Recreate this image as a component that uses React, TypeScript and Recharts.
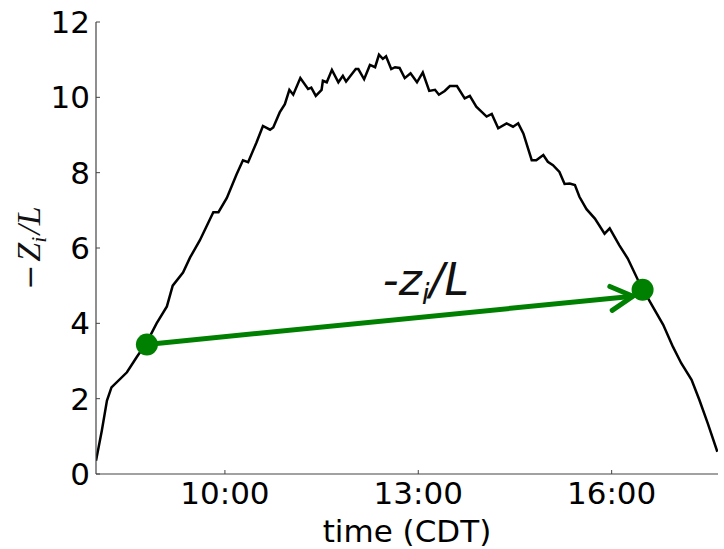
import React from 'react';
import { ComposedChart, Line, Scatter, XAxis, YAxis, ReferenceDot } from 'recharts';

// time of day in decimal hours (CDT)
const TIME_H = [
  8.0, 8.09, 8.17, 8.24, 8.48, 8.63, 8.79, 8.94, 9.1, 9.19, 9.35, 9.46, 9.61, 9.82, 9.9,
  10.03, 10.18, 10.28, 10.36, 10.49, 10.59, 10.7, 10.75, 10.85, 10.93, 11.0, 11.06, 11.17,
  11.29, 11.34, 11.41, 11.5, 11.52, 11.58, 11.66, 11.76, 11.83, 11.88, 12.03, 12.07, 12.16,
  12.25, 12.33, 12.39, 12.45, 12.5, 12.58, 12.64, 12.71, 12.79, 12.88, 12.98, 13.07, 13.17,
  13.26, 13.32, 13.41, 13.49, 13.6, 13.72, 13.8, 13.9, 14.06, 14.14, 14.24, 14.37, 14.47,
  14.55, 14.63, 14.76, 14.83, 14.94, 15.01, 15.09, 15.19, 15.27, 15.35, 15.43, 15.5, 15.61,
  15.74, 15.89, 15.97, 16.12, 16.25, 16.43, 16.64, 16.8, 16.95, 17.08, 17.24, 17.36, 17.49,
  17.64,
];

// -Zi/L
const ZI_OVER_L = [
  0.35, 1.15, 1.95, 2.3, 2.7, 3.1, 3.5, 4.0, 4.45, 5.0, 5.35, 5.75, 6.2, 6.95, 6.95,
  7.33, 7.95, 8.33, 8.28, 8.8, 9.24, 9.14, 9.2, 9.6, 9.82, 10.2, 10.07, 10.51,
  10.22, 10.26, 10.04, 10.2, 10.44, 10.4, 10.73, 10.4, 10.57, 10.42, 10.75, 10.75, 10.48,
  10.86, 10.8, 11.13, 11.02, 11.09, 10.75, 10.8, 10.78, 10.51, 10.64, 10.4, 10.66, 10.17,
  10.2, 10.07, 10.17, 10.3, 10.3, 9.97, 10.04, 9.75, 9.49, 9.56, 9.18, 9.31, 9.22,
  9.31, 9.04, 8.33, 8.33, 8.47, 8.29, 8.2, 8.02, 7.7, 7.71, 7.67, 7.36, 7.03,
  6.78, 6.38, 6.52, 6.07, 5.72, 5.07, 4.44, 3.96, 3.38, 2.94, 2.5, 1.97, 1.35,
  0.59,
];

// the two highlighted instants and the arrow between them
const MARK_T = [8.79, 16.48];
const MARK_V = [3.44, 4.89];
const ARROW_T = [8.79, 16.33];
const ARROW_V = [3.44, 4.72];

const X_TICKS = [10, 13, 16];
const Y_TICKS = [0, 2, 4, 6, 8, 10, 12];

const series = TIME_H.map((t, i) => ({ t, v: ZI_OVER_L[i] }));
const marks = MARK_T.map((t, i) => ({ t, v: MARK_V[i] }));
const arrow = ARROW_T.map((t, i) => ({ t, v: ARROW_V[i] }));

const GREEN = '#008000';
const FRAME = '#444';
const tickFont = { fill: '#000', fontSize: 31, fontFamily: 'DejaVu Sans' };

const fmtHour = (h: number) => `${h}:00`;

const ArrowLabel = (props: any) => {
  const { x, y } = props.viewBox;
  return (
    <text x={x} y={y} fontFamily="DejaVu Sans" fontStyle="italic" fontSize={44} fill="#111">
      -z<tspan dy={9} fontSize={28}>i</tspan>
      <tspan dy={-9}>/L</tspan>
    </text>
  );
};

const YLabel = (props: any) => {
  const vb = props.viewBox;
  const cx = vb.x + 4;
  const cy = vb.y + vb.height / 2;
  return (
    <text
      x={cx}
      y={cy}
      transform={`rotate(-90 ${cx} ${cy})`}
      textAnchor="middle"
      fontFamily="Liberation Serif"
      fontStyle="italic"
      fontSize={34}
      fill="#111"
    >
      <tspan fontStyle="normal" fontFamily="DejaVu Serif" fontSize={30}>−</tspan>
      <tspan dx={3}>Z</tspan>
      <tspan dy={6} fontSize={22}>i</tspan>
      <tspan dy={-6} dx={2}>/L</tspan>
    </text>
  );
};

export default function App() {
  return (
    <div style={{ position: 'absolute', left: 0, top: 0, background: '#fff' }}>
      <ComposedChart width={724} height={549} margin={{ top: 22, right: 6, bottom: 35, left: 36 }}>
        <defs>
          <marker
            id="arrowHead"
            markerWidth={40}
            markerHeight={40}
            viewBox="-30 -20 40 40"
            refX={0}
            refY={0}
            orient="auto"
            markerUnits="userSpaceOnUse"
          >
            <path d="M -22 -12 L 0 0 L -22 12" fill="none" stroke={GREEN} strokeWidth={5} strokeLinecap="round" />
          </marker>
        </defs>
        <XAxis
          dataKey="t"
          type="number"
          domain={[8, 17.65]}
          allowDataOverflow
          ticks={X_TICKS}
          tickFormatter={fmtHour}
          height={40}
          tickSize={-4}
          tickMargin={12}
          tick={tickFont}
          axisLine={{ stroke: FRAME, strokeWidth: 1.2 }}
          tickLine={{ stroke: FRAME }}
          label={{ value: 'time (CDT)', position: 'bottom', offset: 6, fill: '#000', fontSize: 31, fontFamily: 'DejaVu Sans' }}
        />
        <XAxis
          xAxisId="top"
          orientation="top"
          dataKey="t"
          type="number"
          domain={[8, 17.65]}
          allowDataOverflow
          ticks={X_TICKS}
          height={0}
          tickSize={-4}
          tick={false}
          axisLine={{ stroke: FRAME, strokeWidth: 1.2 }}
          tickLine={{ stroke: FRAME }}
        />
        <YAxis
          type="number"
          domain={[0, 12]}
          ticks={Y_TICKS}
          width={60}
          tickSize={-4}
          tickMargin={10}
          tick={tickFont}
          axisLine={{ stroke: FRAME, strokeWidth: 1.2 }}
          tickLine={{ stroke: FRAME }}
          label={{ content: YLabel }}
        />
        <YAxis
          yAxisId="right"
          orientation="right"
          type="number"
          domain={[0, 12]}
          ticks={Y_TICKS}
          width={0}
          tickSize={-4}
          tick={false}
          axisLine={{ stroke: FRAME, strokeWidth: 1.2 }}
          tickLine={{ stroke: FRAME }}
        />
        <Line
          data={series}
          dataKey="v"
          type="linear"
          stroke="#000"
          strokeWidth={2.5}
          dot={false}
          isAnimationActive={false}
        />
        <Line
          data={arrow}
          dataKey="v"
          type="linear"
          stroke={GREEN}
          strokeWidth={5}
          dot={false}
          markerEnd="url(#arrowHead)"
          isAnimationActive={false}
        />
        <Scatter
          data={marks}
          dataKey="v"
          fill={GREEN}
          isAnimationActive={false}
          shape={(p: any) => <circle cx={p.cx} cy={p.cy} r={11} fill={GREEN} />}
        />
        <ReferenceDot x={12.45} y={4.76} r={0} fill="none" stroke="none" label={{ content: ArrowLabel }} />
      </ComposedChart>
    </div>
  );
}
